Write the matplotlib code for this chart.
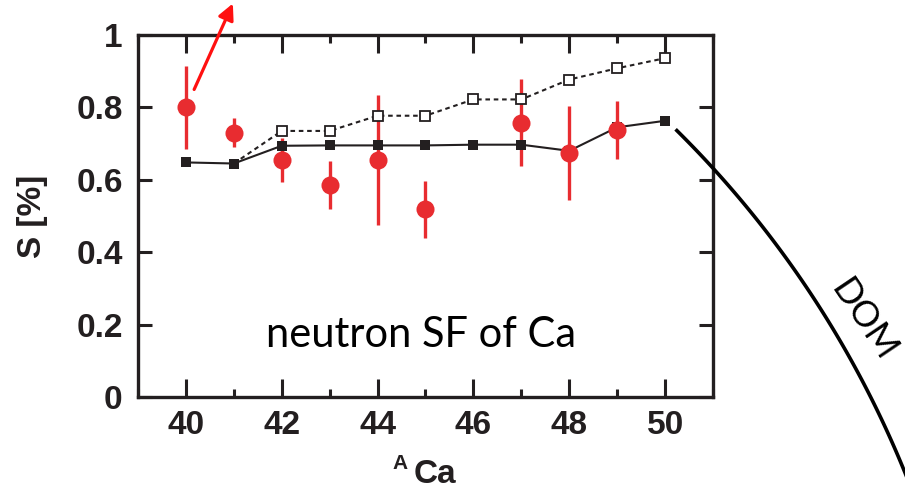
import numpy as np
import matplotlib; matplotlib.use('Agg')
import matplotlib.pyplot as plt
import matplotlib.transforms as mtransforms
from matplotlib.patches import FancyArrowPatch
from matplotlib.ticker import MultipleLocator, FuncFormatter

W, H = 905, 490
plt.rcParams.update({'font.family': ['Liberation Sans', 'DejaVu Sans'],
                     'font.weight': 'bold'})

RED = '#e82c30'
INK = '#231f20'

# --- data ---
mass = [40, 41, 42, 43, 44, 45, 46, 47, 48, 49, 50]
sf_solid = [0.648, 0.645, 0.694, 0.695, 0.695, 0.695, 0.697, 0.697, 0.680, 0.745, 0.763]
mass_open = [41, 42, 43, 44, 45, 46, 47, 48, 49, 50]
sf_open = [0.645, 0.735, 0.735, 0.777, 0.777, 0.822, 0.822, 0.877, 0.908, 0.936]
mass_exp = [40, 41, 42, 43, 44, 45, 47, 48, 49]
sf_exp = [0.80, 0.73, 0.655, 0.586, 0.655, 0.518, 0.758, 0.675, 0.738]
sf_err = [0.114, 0.04, 0.06, 0.066, 0.18, 0.08, 0.12, 0.13, 0.08]

fig = plt.figure(figsize=(W / 100, H / 100), dpi=100)
fig.patch.set_facecolor('white')
ax = fig.add_axes([138 / W, 1 - 397 / H, 575 / W, 362 / H])

# pixel transform (origin top-left) for the annotations outside the axes
px = mtransforms.Affine2D().scale(1 / W, -1 / H).translate(0, 1) + fig.transFigure

ax.errorbar(mass_exp, sf_exp, yerr=sf_err, fmt='none', ecolor=RED,
            elinewidth=2.4, capsize=0, zorder=1)
ax.plot(mass_open, sf_open, color=INK, lw=1.5, ls=(0, (2.2, 1.8)),
        marker='s', ms=7, mfc='white', mec=INK, mew=1.3,
        markevery=slice(1, None), zorder=2)
ax.plot(mass, sf_solid, color=INK, lw=1.5, marker='s', ms=7,
        mfc=INK, mec=INK, mew=0, zorder=2)
ax.plot(mass_exp, sf_exp, 'o', color=RED, ms=13, mew=0, zorder=3)

ax.set_xlim(39, 51)
ax.set_ylim(0, 1)
ax.xaxis.set_major_locator(MultipleLocator(2))
ax.xaxis.set_minor_locator(MultipleLocator(1))
ax.yaxis.set_major_locator(MultipleLocator(0.2))
ax.yaxis.set_major_formatter(FuncFormatter(lambda v, p: f'{v:g}'))
ax.tick_params(axis='x', which='major', direction='in', length=13, width=2.2,
               top=True, labelsize=24, pad=9, color=INK, labelcolor=INK)
ax.tick_params(axis='x', which='minor', direction='in', length=6, width=2.2,
               top=True, color=INK)
ax.tick_params(axis='y', direction='in', length=10, width=2.2, right=True,
               labelsize=24, pad=11, color=INK, labelcolor=INK)
for s in ax.spines.values():
    s.set_linewidth(2.4)
    s.set_color(INK)

ax.set_ylabel('S [%]', fontsize=24, fontweight='bold', color=INK, labelpad=20)
ax.text(0.5165, -0.172, 'Ca', transform=ax.transAxes, ha='center', va='top',
        fontsize=24, fontweight='bold', color=INK)
ax.text(0.456, -0.158, 'A', transform=ax.transAxes, ha='center', va='top',
        fontsize=15, fontweight='bold', color=INK)

ax.text(0.492, 0.138, 'neutron SF of Ca', transform=ax.transAxes,
        ha='center', va='baseline', fontsize=30, fontweight='normal',
        family=['Lato', 'DejaVu Sans'], color='black')

# red arrow pointing up and out of the frame
fig.patches.append(FancyArrowPatch((193, 92), (234, 1), transform=px,
                                   arrowstyle='-|>', mutation_scale=24,
                                   color='#ff1010', lw=2.3))

# DOM arc
cx, cy, r = -42, 857, 1022
ang = np.radians(np.linspace(-45.3, -19, 120))
arc = plt.Line2D(cx + r * np.cos(ang), cy + r * np.sin(ang), transform=px,
                 color='black', lw=2.6, clip_on=False)
fig.lines.append(arc)
fig.text(864, 320, 'DOM', transform=px, rotation=-56, rotation_mode='anchor',
         ha='center', va='center', fontsize=26, fontweight='normal',
         family=['Lato', 'DejaVu Sans'], color='black')

fig.savefig('out.png', dpi=100)
